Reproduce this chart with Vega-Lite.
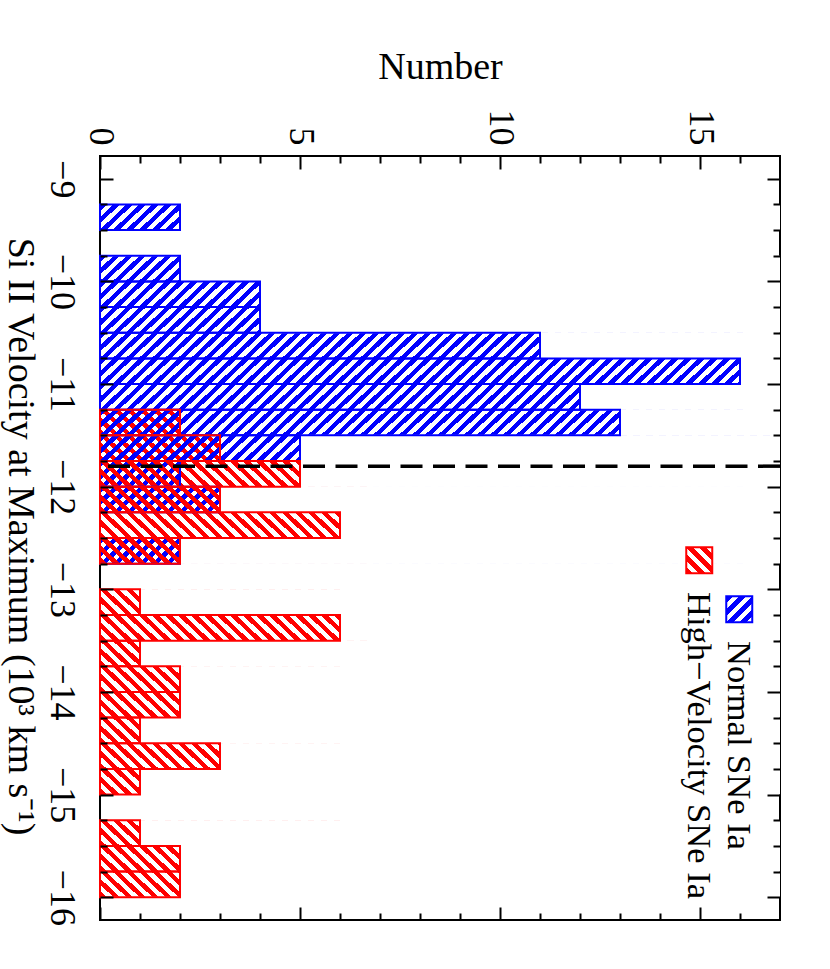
{
  "$schema": "https://vega.github.io/schema/vega-lite/v6.json",
  "width": 680,
  "height": 764,
  "autosize": {"type": "none"},
  "padding": {"left": 100, "top": 156, "right": 50, "bottom": 49},
  "config": {
    "view": {"stroke": "black", "strokeWidth": 2},
    "axis": {"grid": false, "domainColor": "black", "domainWidth": 2, "tickColor": "black", "tickWidth": 2, "labelFont": "Liberation Serif", "labelFontSize": 36, "labelColor": "black", "titleFont": "Liberation Serif", "titleFontSize": 38, "titleFontWeight": "normal", "titleColor": "black"}
  },
  "params": [
    {"name": "gB", "value": {"gradient": "linear", "x1": 0, "y1": 0, "x2": 1.19311, "y2": 0.045619, "stops": [
      {"offset":0,"color":"#00f"},
      {"offset":0.008,"color":"#00f"},{"offset":0.008,"color":"#fff0"},{"offset":0.016,"color":"#fff0"},{"offset":0.016,"color":"#00f"},
      {"offset":0.024,"color":"#00f"},{"offset":0.024,"color":"#fff0"},{"offset":0.032,"color":"#fff0"},{"offset":0.032,"color":"#00f"},
      {"offset":0.04,"color":"#00f"},{"offset":0.04,"color":"#fff0"},{"offset":0.048,"color":"#fff0"},{"offset":0.048,"color":"#00f"},
      {"offset":0.056,"color":"#00f"},{"offset":0.056,"color":"#fff0"},{"offset":0.064,"color":"#fff0"},{"offset":0.064,"color":"#00f"},
      {"offset":0.072,"color":"#00f"},{"offset":0.072,"color":"#fff0"},{"offset":0.08,"color":"#fff0"},{"offset":0.08,"color":"#00f"},
      {"offset":0.088,"color":"#00f"},{"offset":0.088,"color":"#fff0"},{"offset":0.096,"color":"#fff0"},{"offset":0.096,"color":"#00f"},
      {"offset":0.104,"color":"#00f"},{"offset":0.104,"color":"#fff0"},{"offset":0.112,"color":"#fff0"},{"offset":0.112,"color":"#00f"},
      {"offset":0.12,"color":"#00f"},{"offset":0.12,"color":"#fff0"},{"offset":0.128,"color":"#fff0"},{"offset":0.128,"color":"#00f"},
      {"offset":0.136,"color":"#00f"},{"offset":0.136,"color":"#fff0"},{"offset":0.144,"color":"#fff0"},{"offset":0.144,"color":"#00f"},
      {"offset":0.152,"color":"#00f"},{"offset":0.152,"color":"#fff0"},{"offset":0.16,"color":"#fff0"},{"offset":0.16,"color":"#00f"},
      {"offset":0.168,"color":"#00f"},{"offset":0.168,"color":"#fff0"},{"offset":0.176,"color":"#fff0"},{"offset":0.176,"color":"#00f"},
      {"offset":0.184,"color":"#00f"},{"offset":0.184,"color":"#fff0"},{"offset":0.192,"color":"#fff0"},{"offset":0.192,"color":"#00f"},
      {"offset":0.2,"color":"#00f"},{"offset":0.2,"color":"#fff0"},{"offset":0.208,"color":"#fff0"},{"offset":0.208,"color":"#00f"},
      {"offset":0.216,"color":"#00f"},{"offset":0.216,"color":"#fff0"},{"offset":0.224,"color":"#fff0"},{"offset":0.224,"color":"#00f"},
      {"offset":0.232,"color":"#00f"},{"offset":0.232,"color":"#fff0"},{"offset":0.24,"color":"#fff0"},{"offset":0.24,"color":"#00f"},
      {"offset":0.248,"color":"#00f"},{"offset":0.248,"color":"#fff0"},{"offset":0.256,"color":"#fff0"},{"offset":0.256,"color":"#00f"},
      {"offset":0.264,"color":"#00f"},{"offset":0.264,"color":"#fff0"},{"offset":0.272,"color":"#fff0"},{"offset":0.272,"color":"#00f"},
      {"offset":0.28,"color":"#00f"},{"offset":0.28,"color":"#fff0"},{"offset":0.288,"color":"#fff0"},{"offset":0.288,"color":"#00f"},
      {"offset":0.296,"color":"#00f"},{"offset":0.296,"color":"#fff0"},{"offset":0.304,"color":"#fff0"},{"offset":0.304,"color":"#00f"},
      {"offset":0.312,"color":"#00f"},{"offset":0.312,"color":"#fff0"},{"offset":0.32,"color":"#fff0"},{"offset":0.32,"color":"#00f"},
      {"offset":0.328,"color":"#00f"},{"offset":0.328,"color":"#fff0"},{"offset":0.336,"color":"#fff0"},{"offset":0.336,"color":"#00f"},
      {"offset":0.344,"color":"#00f"},{"offset":0.344,"color":"#fff0"},{"offset":0.352,"color":"#fff0"},{"offset":0.352,"color":"#00f"},
      {"offset":0.36,"color":"#00f"},{"offset":0.36,"color":"#fff0"},{"offset":0.368,"color":"#fff0"},{"offset":0.368,"color":"#00f"},
      {"offset":0.376,"color":"#00f"},{"offset":0.376,"color":"#fff0"},{"offset":0.384,"color":"#fff0"},{"offset":0.384,"color":"#00f"},
      {"offset":0.392,"color":"#00f"},{"offset":0.392,"color":"#fff0"},{"offset":0.4,"color":"#fff0"},{"offset":0.4,"color":"#00f"},
      {"offset":0.408,"color":"#00f"},{"offset":0.408,"color":"#fff0"},{"offset":0.416,"color":"#fff0"},{"offset":0.416,"color":"#00f"},
      {"offset":0.424,"color":"#00f"},{"offset":0.424,"color":"#fff0"},{"offset":0.432,"color":"#fff0"},{"offset":0.432,"color":"#00f"},
      {"offset":0.44,"color":"#00f"},{"offset":0.44,"color":"#fff0"},{"offset":0.448,"color":"#fff0"},{"offset":0.448,"color":"#00f"},
      {"offset":0.456,"color":"#00f"},{"offset":0.456,"color":"#fff0"},{"offset":0.464,"color":"#fff0"},{"offset":0.464,"color":"#00f"},
      {"offset":0.472,"color":"#00f"},{"offset":0.472,"color":"#fff0"},{"offset":0.48,"color":"#fff0"},{"offset":0.48,"color":"#00f"},
      {"offset":0.488,"color":"#00f"},{"offset":0.488,"color":"#fff0"},{"offset":0.496,"color":"#fff0"},{"offset":0.496,"color":"#00f"},
      {"offset":0.504,"color":"#00f"},{"offset":0.504,"color":"#fff0"},{"offset":0.512,"color":"#fff0"},{"offset":0.512,"color":"#00f"},
      {"offset":0.52,"color":"#00f"},{"offset":0.52,"color":"#fff0"},{"offset":0.528,"color":"#fff0"},{"offset":0.528,"color":"#00f"},
      {"offset":0.536,"color":"#00f"},{"offset":0.536,"color":"#fff0"},{"offset":0.544,"color":"#fff0"},{"offset":0.544,"color":"#00f"},
      {"offset":0.552,"color":"#00f"},{"offset":0.552,"color":"#fff0"},{"offset":0.56,"color":"#fff0"},{"offset":0.56,"color":"#00f"},
      {"offset":0.568,"color":"#00f"},{"offset":0.568,"color":"#fff0"},{"offset":0.576,"color":"#fff0"},{"offset":0.576,"color":"#00f"},
      {"offset":0.584,"color":"#00f"},{"offset":0.584,"color":"#fff0"},{"offset":0.592,"color":"#fff0"},{"offset":0.592,"color":"#00f"},
      {"offset":0.6,"color":"#00f"},{"offset":0.6,"color":"#fff0"},{"offset":0.608,"color":"#fff0"},{"offset":0.608,"color":"#00f"},
      {"offset":0.616,"color":"#00f"},{"offset":0.616,"color":"#fff0"},{"offset":0.624,"color":"#fff0"},{"offset":0.624,"color":"#00f"},
      {"offset":0.632,"color":"#00f"},{"offset":0.632,"color":"#fff0"},{"offset":0.64,"color":"#fff0"},{"offset":0.64,"color":"#00f"},
      {"offset":0.648,"color":"#00f"},{"offset":0.648,"color":"#fff0"},{"offset":0.656,"color":"#fff0"},{"offset":0.656,"color":"#00f"},
      {"offset":0.664,"color":"#00f"},{"offset":0.664,"color":"#fff0"},{"offset":0.672,"color":"#fff0"},{"offset":0.672,"color":"#00f"},
      {"offset":0.68,"color":"#00f"},{"offset":0.68,"color":"#fff0"},{"offset":0.688,"color":"#fff0"},{"offset":0.688,"color":"#00f"},
      {"offset":0.696,"color":"#00f"},{"offset":0.696,"color":"#fff0"},{"offset":0.704,"color":"#fff0"},{"offset":0.704,"color":"#00f"},
      {"offset":0.712,"color":"#00f"},{"offset":0.712,"color":"#fff0"},{"offset":0.72,"color":"#fff0"},{"offset":0.72,"color":"#00f"},
      {"offset":0.728,"color":"#00f"},{"offset":0.728,"color":"#fff0"},{"offset":0.736,"color":"#fff0"},{"offset":0.736,"color":"#00f"},
      {"offset":0.744,"color":"#00f"},{"offset":0.744,"color":"#fff0"},{"offset":0.752,"color":"#fff0"},{"offset":0.752,"color":"#00f"},
      {"offset":0.76,"color":"#00f"},{"offset":0.76,"color":"#fff0"},{"offset":0.768,"color":"#fff0"},{"offset":0.768,"color":"#00f"},
      {"offset":0.776,"color":"#00f"},{"offset":0.776,"color":"#fff0"},{"offset":0.784,"color":"#fff0"},{"offset":0.784,"color":"#00f"},
      {"offset":0.792,"color":"#00f"},{"offset":0.792,"color":"#fff0"},{"offset":0.8,"color":"#fff0"},{"offset":0.8,"color":"#00f"},
      {"offset":0.808,"color":"#00f"},{"offset":0.808,"color":"#fff0"},{"offset":0.816,"color":"#fff0"},{"offset":0.816,"color":"#00f"},
      {"offset":0.824,"color":"#00f"},{"offset":0.824,"color":"#fff0"}
    ]}},
    {"name": "gR", "value": {"gradient": "linear", "x1": 0, "y1": 1, "x2": 1.19311, "y2": 0.954381, "stops": [
      {"offset":0,"color":"#f00"},
      {"offset":0.008,"color":"#f00"},{"offset":0.008,"color":"#fff0"},{"offset":0.016,"color":"#fff0"},{"offset":0.016,"color":"#f00"},
      {"offset":0.024,"color":"#f00"},{"offset":0.024,"color":"#fff0"},{"offset":0.032,"color":"#fff0"},{"offset":0.032,"color":"#f00"},
      {"offset":0.04,"color":"#f00"},{"offset":0.04,"color":"#fff0"},{"offset":0.048,"color":"#fff0"},{"offset":0.048,"color":"#f00"},
      {"offset":0.056,"color":"#f00"},{"offset":0.056,"color":"#fff0"},{"offset":0.064,"color":"#fff0"},{"offset":0.064,"color":"#f00"},
      {"offset":0.072,"color":"#f00"},{"offset":0.072,"color":"#fff0"},{"offset":0.08,"color":"#fff0"},{"offset":0.08,"color":"#f00"},
      {"offset":0.088,"color":"#f00"},{"offset":0.088,"color":"#fff0"},{"offset":0.096,"color":"#fff0"},{"offset":0.096,"color":"#f00"},
      {"offset":0.104,"color":"#f00"},{"offset":0.104,"color":"#fff0"},{"offset":0.112,"color":"#fff0"},{"offset":0.112,"color":"#f00"},
      {"offset":0.12,"color":"#f00"},{"offset":0.12,"color":"#fff0"},{"offset":0.128,"color":"#fff0"},{"offset":0.128,"color":"#f00"},
      {"offset":0.136,"color":"#f00"},{"offset":0.136,"color":"#fff0"},{"offset":0.144,"color":"#fff0"},{"offset":0.144,"color":"#f00"},
      {"offset":0.152,"color":"#f00"},{"offset":0.152,"color":"#fff0"},{"offset":0.16,"color":"#fff0"},{"offset":0.16,"color":"#f00"},
      {"offset":0.168,"color":"#f00"},{"offset":0.168,"color":"#fff0"},{"offset":0.176,"color":"#fff0"},{"offset":0.176,"color":"#f00"},
      {"offset":0.184,"color":"#f00"},{"offset":0.184,"color":"#fff0"},{"offset":0.192,"color":"#fff0"},{"offset":0.192,"color":"#f00"},
      {"offset":0.2,"color":"#f00"},{"offset":0.2,"color":"#fff0"},{"offset":0.208,"color":"#fff0"},{"offset":0.208,"color":"#f00"},
      {"offset":0.216,"color":"#f00"},{"offset":0.216,"color":"#fff0"},{"offset":0.224,"color":"#fff0"},{"offset":0.224,"color":"#f00"},
      {"offset":0.232,"color":"#f00"},{"offset":0.232,"color":"#fff0"},{"offset":0.24,"color":"#fff0"},{"offset":0.24,"color":"#f00"},
      {"offset":0.248,"color":"#f00"},{"offset":0.248,"color":"#fff0"},{"offset":0.256,"color":"#fff0"},{"offset":0.256,"color":"#f00"},
      {"offset":0.264,"color":"#f00"},{"offset":0.264,"color":"#fff0"},{"offset":0.272,"color":"#fff0"},{"offset":0.272,"color":"#f00"},
      {"offset":0.28,"color":"#f00"},{"offset":0.28,"color":"#fff0"},{"offset":0.288,"color":"#fff0"},{"offset":0.288,"color":"#f00"},
      {"offset":0.296,"color":"#f00"},{"offset":0.296,"color":"#fff0"},{"offset":0.304,"color":"#fff0"},{"offset":0.304,"color":"#f00"},
      {"offset":0.312,"color":"#f00"},{"offset":0.312,"color":"#fff0"},{"offset":0.32,"color":"#fff0"},{"offset":0.32,"color":"#f00"},
      {"offset":0.328,"color":"#f00"},{"offset":0.328,"color":"#fff0"}
    ]}},
    {"name": "gB2", "value": {"gradient": "linear", "x1": 0, "y1": 0, "x2": 1, "y2": 1, "stops": [
      {"offset":0,"color":"#00f"},{"offset":0.125,"color":"#00f"},{"offset":0.125,"color":"#fff"},{"offset":0.25,"color":"#fff"},{"offset":0.25,"color":"#00f"},
      {"offset":0.375,"color":"#00f"},{"offset":0.375,"color":"#fff"},{"offset":0.5,"color":"#fff"},{"offset":0.5,"color":"#00f"},
      {"offset":0.625,"color":"#00f"},{"offset":0.625,"color":"#fff"},{"offset":0.75,"color":"#fff"},{"offset":0.75,"color":"#00f"},
      {"offset":0.875,"color":"#00f"},{"offset":0.875,"color":"#fff"},{"offset":1,"color":"#fff"}
    ]}},
    {"name": "gR2", "value": {"gradient": "linear", "x1": 0, "y1": 1, "x2": 1, "y2": 0, "stops": [
      {"offset":0,"color":"#f00"},{"offset":0.125,"color":"#f00"},{"offset":0.125,"color":"#fff"},{"offset":0.25,"color":"#fff"},{"offset":0.25,"color":"#f00"},
      {"offset":0.375,"color":"#f00"},{"offset":0.375,"color":"#fff"},{"offset":0.5,"color":"#fff"},{"offset":0.5,"color":"#f00"},
      {"offset":0.625,"color":"#f00"},{"offset":0.625,"color":"#fff"},{"offset":0.75,"color":"#fff"},{"offset":0.75,"color":"#f00"},
      {"offset":0.875,"color":"#f00"},{"offset":0.875,"color":"#fff"},{"offset":1,"color":"#fff"}
    ]}}
  ],
  "data": {"values": [
    {"series": "Normal SNe Ia", "from": -9.25, "to": -9.5, "n": 2},
    {"series": "Normal SNe Ia", "from": -9.75, "to": -10, "n": 2},
    {"series": "Normal SNe Ia", "from": -10, "to": -10.25, "n": 4},
    {"series": "Normal SNe Ia", "from": -10.25, "to": -10.5, "n": 4},
    {"series": "Normal SNe Ia", "from": -10.5, "to": -10.75, "n": 11},
    {"series": "Normal SNe Ia", "from": -10.75, "to": -11, "n": 16},
    {"series": "Normal SNe Ia", "from": -11, "to": -11.25, "n": 12},
    {"series": "Normal SNe Ia", "from": -11.25, "to": -11.5, "n": 13},
    {"series": "Normal SNe Ia", "from": -11.5, "to": -11.75, "n": 5},
    {"series": "Normal SNe Ia", "from": -11.75, "to": -12, "n": 2},
    {"series": "Normal SNe Ia", "from": -12, "to": -12.25, "n": 3},
    {"series": "Normal SNe Ia", "from": -12.5, "to": -12.75, "n": 2},
    {"series": "High−Velocity SNe Ia", "from": -11.25, "to": -11.5, "n": 2},
    {"series": "High−Velocity SNe Ia", "from": -11.5, "to": -11.75, "n": 3},
    {"series": "High−Velocity SNe Ia", "from": -11.75, "to": -12, "n": 5},
    {"series": "High−Velocity SNe Ia", "from": -12, "to": -12.25, "n": 3},
    {"series": "High−Velocity SNe Ia", "from": -12.25, "to": -12.5, "n": 6},
    {"series": "High−Velocity SNe Ia", "from": -12.5, "to": -12.75, "n": 2},
    {"series": "High−Velocity SNe Ia", "from": -13, "to": -13.25, "n": 1},
    {"series": "High−Velocity SNe Ia", "from": -13.25, "to": -13.5, "n": 6},
    {"series": "High−Velocity SNe Ia", "from": -13.5, "to": -13.75, "n": 1},
    {"series": "High−Velocity SNe Ia", "from": -13.75, "to": -14, "n": 2},
    {"series": "High−Velocity SNe Ia", "from": -14, "to": -14.25, "n": 2},
    {"series": "High−Velocity SNe Ia", "from": -14.25, "to": -14.5, "n": 1},
    {"series": "High−Velocity SNe Ia", "from": -14.5, "to": -14.75, "n": 3},
    {"series": "High−Velocity SNe Ia", "from": -14.75, "to": -15, "n": 1},
    {"series": "High−Velocity SNe Ia", "from": -15.25, "to": -15.5, "n": 1},
    {"series": "High−Velocity SNe Ia", "from": -15.5, "to": -15.75, "n": 2},
    {"series": "High−Velocity SNe Ia", "from": -15.75, "to": -16, "n": 2}
  ]},
  "resolve": {"axis": {"x": "independent", "y": "independent"}},
  "layer": [
    {
      "transform": [
        {"joinaggregate": [{"op": "max", "field": "n", "as": "mx"}], "groupby": ["from"]},
        {"filter": "datum.n < datum.mx"}
      ],
      "mark": {"type": "rect", "strokeWidth": 0, "yOffset": 0.5, "y2Offset": -0.5},
      "encoding": {
        "x": {"datum": 0, "type": "quantitative", "scale": {"domain": [0, 17], "nice": false, "zero": false},
          "axis": {"orient": "top", "values": [0, 5, 10, 15], "format": "d", "tickSize": -13, "domain": false, "labelAngle": 90, "labelAlign": "right", "labelBaseline": "middle", "labelPadding": 24, "labelFlush": false, "labelOverlap": false, "title": "Number", "titleAngle": 0, "titleAlign": "center", "titleBaseline": "alphabetic", "titleX": 340, "titleY": -78, "zindex": 1}},
        "x2": {"datum": 17},
        "y": {"field": "from", "type": "quantitative", "scale": {"domain": [-16.173077, -8.826923], "nice": false, "zero": false},
          "axis": {"orient": "left", "values": [-9, -10, -11, -12, -13, -14, -15, -16], "format": "d", "tickSize": -13, "domain": false, "labelAngle": 90, "labelAlign": "center", "labelBaseline": "alphabetic", "labelPadding": 63, "labelFlush": false, "labelOverlap": false, "title": "Si II Velocity at Maximum (10³ km s⁻¹)", "titleAngle": 90, "titleAlign": "center", "titleBaseline": "alphabetic", "titleX": -92, "titleY": 380, "zindex": 1}},
        "y2": {"field": "to"},
        "fill": {"condition": {"test": "datum.series === 'Normal SNe Ia'", "value": {"expr": "gB"}}, "value": {"expr": "gR"}}
      }
    },
    {
      "transform": [
        {"joinaggregate": [{"op": "max", "field": "n", "as": "mx"}], "groupby": ["from"]},
        {"filter": "datum.n < datum.mx"}
      ],
      "mark": {"type": "rect", "fill": "white", "strokeWidth": 0},
      "encoding": {
        "x": {"field": "n", "type": "quantitative", "scale": {"domain": [0, 17], "nice": false, "zero": false},
          "axis": {"orient": "top", "values": [1, 2, 3, 4, 6, 7, 8, 9, 11, 12, 13, 14, 16], "labels": false, "domain": false, "tickSize": -7, "title": null, "zindex": 1}},
        "x2": {"value": "width"},
        "y": {"field": "from", "type": "quantitative", "scale": {"domain": [-16.173077, -8.826923], "nice": false, "zero": false},
          "axis": {"orient": "left", "values": [-9.25, -9.5, -9.75, -10.25, -10.5, -10.75, -11.25, -11.5, -11.75, -12.25, -12.5, -12.75, -13.25, -13.5, -13.75, -14.25, -14.5, -14.75, -15.25, -15.5, -15.75], "labels": false, "domain": false, "tickSize": -7, "title": null, "zindex": 1}},
        "y2": {"field": "to"}
      }
    },
    {
      "transform": [
        {"joinaggregate": [{"op": "max", "field": "n", "as": "mx"}], "groupby": ["from"]},
        {"filter": "datum.n == datum.mx"}
      ],
      "mark": {"type": "rect", "strokeWidth": 0, "yOffset": 0.5, "y2Offset": -0.5},
      "encoding": {
        "x": {"datum": 0, "type": "quantitative", "scale": {"domain": [0, 17], "nice": false, "zero": false},
          "axis": {"orient": "bottom", "values": [0, 5, 10, 15], "labels": false, "domain": false, "tickSize": -13, "title": null, "zindex": 1}},
        "x2": {"datum": 17},
        "y": {"field": "from", "type": "quantitative", "scale": {"domain": [-16.173077, -8.826923], "nice": false, "zero": false},
          "axis": {"orient": "right", "values": [-9, -10, -11, -12, -13, -14, -15, -16], "labels": false, "domain": false, "tickSize": -13, "title": null, "zindex": 1}},
        "y2": {"field": "to"},
        "fill": {"condition": {"test": "datum.series === 'Normal SNe Ia'", "value": {"expr": "gB"}}, "value": {"expr": "gR"}}
      }
    },
    {
      "transform": [
        {"joinaggregate": [{"op": "max", "field": "n", "as": "mx"}], "groupby": ["from"]},
        {"filter": "datum.n == datum.mx"}
      ],
      "mark": {"type": "rect", "fill": "white", "strokeWidth": 0},
      "encoding": {
        "x": {"field": "n", "type": "quantitative", "scale": {"domain": [0, 17], "nice": false, "zero": false},
          "axis": {"orient": "bottom", "values": [1, 2, 3, 4, 6, 7, 8, 9, 11, 12, 13, 14, 16], "labels": false, "domain": false, "tickSize": -7, "title": null, "zindex": 1}},
        "x2": {"value": "width"},
        "y": {"field": "from", "type": "quantitative", "scale": {"domain": [-16.173077, -8.826923], "nice": false, "zero": false},
          "axis": {"orient": "right", "values": [-9.25, -9.5, -9.75, -10.25, -10.5, -10.75, -11.25, -11.5, -11.75, -12.25, -12.5, -12.75, -13.25, -13.5, -13.75, -14.25, -14.5, -14.75, -15.25, -15.5, -15.75], "labels": false, "domain": false, "tickSize": -7, "title": null, "zindex": 1}},
        "y2": {"field": "to"}
      }
    },
    {
      "mark": {"type": "bar", "orient": "horizontal", "filled": false, "strokeWidth": 2},
      "encoding": {
        "x": {"field": "n", "type": "quantitative", "stack": null, "scale": {"domain": [0, 17], "nice": false, "zero": false}, "axis": null},
        "y": {"field": "from", "type": "quantitative", "scale": {"domain": [-16.173077, -8.826923], "nice": false, "zero": false}, "axis": null},
        "y2": {"field": "to"},
        "stroke": {"field": "series", "type": "nominal",
          "scale": {"domain": ["High−Velocity SNe Ia", "Normal SNe Ia"], "range": ["#ff0000", "#0000ff"]},
          "legend": {"orient": "none", "legendX": 582, "legendY": 387, "direction": "horizontal", "title": null, "symbolType": "square", "symbolSize": 676, "symbolStrokeWidth": 2, "symbolOpacity": 1, "labelFont": "Liberation Serif", "labelFontSize": 34.5, "labelColor": "black", "labelLimit": 1000, "labelOffset": 0, "columnPadding": 4, "padding": 0,
            "encoding": {
              "labels": {"angle": {"value": 90}, "align": {"value": "left"}, "baseline": {"value": "alphabetic"}, "x": {"value": 6}, "y": {"value": 49}},
              "symbols": {"fill": {"condition": {"test": "datum.value === 'Normal SNe Ia'", "value": {"expr": "gB2"}}, "value": {"expr": "gR2"}}}
            },
            "encode": {
              "labels": {"update": {"angle": {"value": 90}, "align": {"value": "left"}, "baseline": {"value": "alphabetic"}, "x": {"value": 6}, "y": {"value": 49}}},
              "symbols": {"update": {"fill": [{"test": "datum.value === 'Normal SNe Ia'", "signal": "gB2"}, {"signal": "gR2"}]}}
            }}}
      }
    },
    {
      "data": {"values": [{"threshold": -11.8}]},
      "mark": {"type": "rule", "color": "black", "strokeWidth": 3.5, "strokeDash": [22, 10.5]},
      "encoding": {
        "y": {"field": "threshold", "type": "quantitative", "scale": {"domain": [-16.173077, -8.826923], "nice": false, "zero": false}, "axis": null}
      }
    }
  ]
}
